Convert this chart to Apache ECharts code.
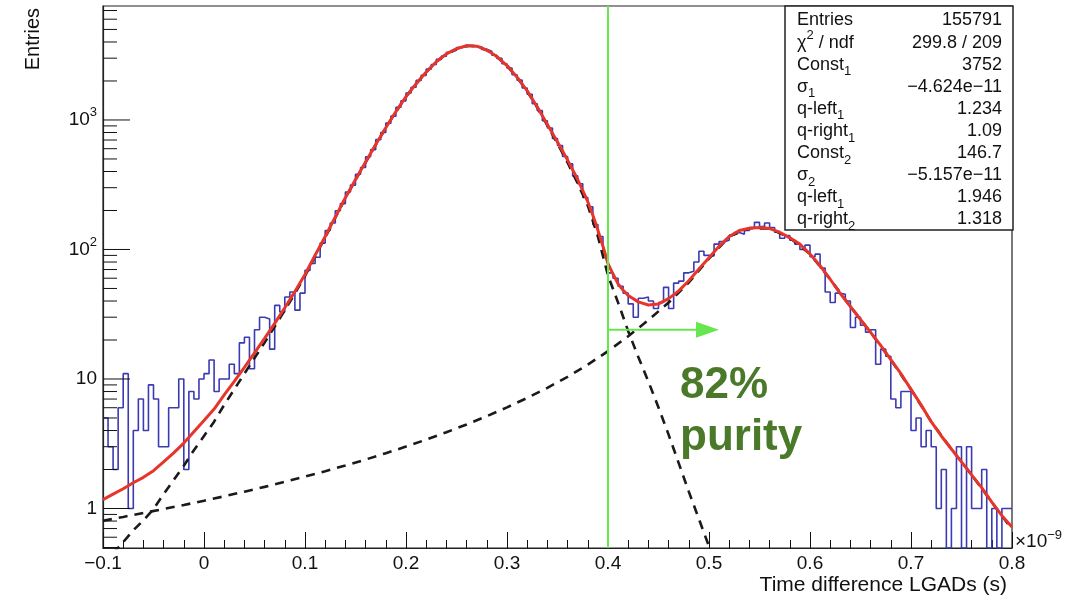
<!DOCTYPE html>
<html>
<head>
<meta charset="utf-8">
<script src="https://cdn.jsdelivr.net/npm/echarts@6/dist/echarts.min.js"></script>
<style>
  html, body { margin: 0; padding: 0; background: #fff; }
  #chart { width: 1084px; height: 598px; }
</style>
</head>
<body>
<div id="chart"></div>
<script>
// Time difference between the two LGADs (in ns), 5 ps bins from -0.1 to 0.8
const binStart = -0.1;
const binWidth = 0.005;
const counts = [
  5, 3, 2, 6, 11, 1, 4, 7, 4, 9, 7, 3, 3, 6, 6, 10, 2, 8, 7, 10,
  11, 14, 8, 10, 10, 13, 11, 19, 21, 12, 24, 30, 29, 17, 37, 33, 43, 47, 34, 46,
  69, 78, 87, 112, 140, 160, 199, 226, 278, 314, 381, 430, 520, 590, 705, 800, 945, 1070, 1255, 1405,
  1615, 1790, 2020, 2210, 2470, 2680, 2935, 3110, 3330, 3450, 3620, 3680, 3760, 3700, 3675, 3510, 3390, 3160, 2990, 2720,
  2520, 2235, 2030, 1765, 1580, 1335, 1180, 985, 866, 720, 635, 522, 458, 370, 322, 252, 214, 156, 126, 90,
  66, 60, 52, 46, 38, 30, 42, 43, 40, 35, 39, 51, 35, 55, 57, 66, 68, 80, 97, 90,
  89, 110, 115, 118, 129, 135, 131, 140, 148, 162, 150, 160, 148, 136, 122, 128, 118, 110, 100, 108,
  88, 92, 72, 47, 39, 46, 45, 40, 25, 30, 26, 23, 24, 13, 17, 15, 7, 6, 8, 8,
  4, 5, 3, 4, 3, 1, 2, 0, 1, 3, 0, 3, 1, 1, 2, 0, 1, 0, 1, 1
];

// Total fit (sum of the two q-Gaussian components)
const fitX = [
  -0.10, -0.09, -0.08, -0.07, -0.06, -0.05, -0.04, -0.03, -0.02, -0.01,
  0.00, 0.01, 0.02, 0.03, 0.04, 0.05, 0.06, 0.07, 0.08, 0.09,
  0.10, 0.11, 0.12, 0.13, 0.14, 0.15, 0.16, 0.17, 0.18, 0.19,
  0.20, 0.21, 0.22, 0.23, 0.24, 0.25, 0.26, 0.27, 0.28, 0.29,
  0.30, 0.31, 0.32, 0.33, 0.34, 0.35, 0.36, 0.37, 0.38, 0.385, 0.39, 0.395,
  0.40, 0.405, 0.41, 0.415, 0.42, 0.43, 0.44, 0.45, 0.46, 0.47, 0.48, 0.49,
  0.50, 0.51, 0.52, 0.53, 0.54, 0.55, 0.56, 0.57, 0.58, 0.59,
  0.60, 0.61, 0.62, 0.63, 0.64, 0.65, 0.66, 0.67, 0.68, 0.69,
  0.70, 0.71, 0.72, 0.73, 0.74, 0.75, 0.76, 0.77, 0.78, 0.79, 0.80
];
const fitY = [
  1.17, 1.29, 1.42, 1.58, 1.74, 1.96, 2.29, 2.69, 3.20, 3.92,
  4.78, 5.86, 7.53, 9.59, 12.3, 15.9, 20.6, 26.9, 35.5, 47.4,
  64.1, 90.2, 126, 178, 251, 347, 473, 646, 871, 1161,
  1514, 1905, 2344, 2818, 3236, 3548, 3750, 3715, 3467, 3090,
  2630, 2138, 1679, 1259, 923, 676, 490, 347, 234, 184, 141, 106,
  77.6, 64.6, 54.3, 48.4, 44.2, 39.4, 37.3, 38.0, 41.7, 47.9, 57.4, 70.8,
  86.5, 106, 126, 140, 146, 148, 145, 136, 123, 110,
  92.3, 75.0, 58.9, 45.7, 36.3, 28.8, 22.9, 18.2, 14.1, 11.0,
  8.32, 6.31, 4.68, 3.63, 2.88, 2.29, 1.82, 1.45, 1.12, 0.88, 0.72
];

// First component (main peak)
const peak1X = [
  -0.09, -0.08, -0.07, -0.06, -0.05, -0.04, -0.03, -0.02, -0.01,
  0.00, 0.01, 0.02, 0.03, 0.04, 0.05, 0.06, 0.07, 0.08, 0.09,
  0.10, 0.11, 0.12, 0.13, 0.14, 0.15, 0.16, 0.17, 0.18, 0.19,
  0.20, 0.21, 0.22, 0.23, 0.24, 0.25, 0.26, 0.27, 0.28, 0.29,
  0.30, 0.31, 0.32, 0.33, 0.34, 0.35, 0.36, 0.37, 0.38, 0.39,
  0.40, 0.41, 0.42, 0.43, 0.44, 0.45, 0.46, 0.47, 0.48, 0.49, 0.50, 0.51
];
const peak1Y = [
  0.45, 0.55, 0.68, 0.81, 0.99, 1.29, 1.66, 2.14, 2.82,
  3.63, 4.68, 6.31, 8.32, 11.0, 14.5, 19.1, 25.4, 33.9, 45.7,
  62.4, 88.4, 124, 176, 249, 345, 470, 643, 868, 1158,
  1511, 1901, 2340, 2814, 3231, 3542, 3743, 3707, 3458, 3080,
  2619, 2126, 1665, 1244, 906, 657, 469, 324, 218, 126,
  63, 38.9, 23.4, 14.8, 9.55, 6.03, 3.72, 2.24, 1.35, 0.83, 0.51, 0.31
];

// Second component (satellite peak)
const peak2X = [
  -0.10, -0.08, -0.06, -0.04, -0.02, 0.00, 0.02, 0.04, 0.06, 0.08,
  0.10, 0.12, 0.14, 0.16, 0.18, 0.20, 0.22, 0.24, 0.26, 0.28,
  0.30, 0.32, 0.34, 0.36, 0.38, 0.40, 0.42, 0.44, 0.46, 0.48,
  0.50, 0.52, 0.54, 0.56, 0.58, 0.60, 0.62, 0.64, 0.66, 0.68,
  0.70, 0.72, 0.74, 0.76, 0.78, 0.80
];
const peak2Y = [
  0.803, 0.861, 0.925, 0.991, 1.064, 1.148, 1.242, 1.349, 1.469, 1.607,
  1.762, 1.941, 2.148, 2.388, 2.673, 3.006, 3.404, 3.882, 4.457, 5.164,
  6.039, 7.145, 8.551, 10.4, 12.9, 16.4, 21.4, 28.5, 38.9, 55.6,
  85.1, 126, 146, 145, 123, 92.3, 58.9, 36.3, 22.9, 14.1,
  8.32, 4.68, 2.88, 1.82, 1.12, 0.69
];

// Selection cut and arrow
const purityCut = 0.4;
const arrowTip = 0.4985;
const arrowLevel = 24;

// Axes
const xMin = -0.1, xMax = 0.8;
const yMinLog = -0.305, yMaxLog = 3.88;
const yDecadeLabels = ['{b|1}', '{b|10}', '{b|10}{s|2}', '{b|10}{s|3}'];

// Fit statistics box
const statLabels = [
  '{m|Entries}', '{m|χ}{sup|2}{m| / ndf}', '{m|Const}{sub|1}', '{m|σ}{sub|1}',
  '{m|q-left}{sub|1}', '{m|q-right}{sub|1}', '{m|Const}{sub|2}', '{m|σ}{sub|2}',
  '{m|q-left}{sub|1}', '{m|q-right}{sub|2}'
];
const statValues = [
  '155791', '299.8 / 209', '3752', '−4.624e−11', '1.234',
  '1.09', '146.7', '−5.157e−11', '1.946', '1.318'
];

const FONT = 'Liberation Sans, Arial, Helvetica, sans-serif';
const INK = '#111';

const toLog = c => (c > 0 ? Math.log10(c) : yMinLog);

const histData = counts.map((c, i) => [binStart + i * binWidth, toLog(c)]);
histData.push([binStart + counts.length * binWidth, toLog(counts[counts.length - 1])]);
const fitData = fitX.map((x, i) => [x, Math.log10(fitY[i])]);
const peak1Data = peak1X.map((x, i) => [x, Math.log10(peak1Y[i])]);
const peak2Data = peak2X.map((x, i) => [x, Math.log10(peak2Y[i])]);

// Log-scale ticks on the vertical axis: decades and 2..9 subdivisions
const yTicks = [];
for (let d = -1; d <= 3; d++) {
  for (let m = 1; m <= 9; m++) {
    const lv = Math.log10(m * Math.pow(10, d));
    if (lv > yMinLog + 1e-6 && lv < yMaxLog) yTicks.push([xMin, lv, m === 1 ? 1 : 0]);
  }
}

const chart = echarts.init(document.getElementById('chart'), null, { renderer: 'canvas' });

const statGraphics = [];
statGraphics.push({
  type: 'rect', z: 20,
  shape: { x: 785, y: 6, width: 228, height: 224 },
  style: { fill: '#fff', stroke: '#222', lineWidth: 1.5 }
});
statLabels.forEach((lab, i) => {
  const yc = 20.5 + 22.1 * i;
  statGraphics.push({
    type: 'text', z: 21, x: 797, y: yc,
    style: {
      text: lab, align: 'left', verticalAlign: 'middle', fill: INK,
      rich: {
        m: { fontSize: 18, fontFamily: FONT, fill: INK, lineHeight: 27 },
        sub: { fontSize: 13, fontFamily: FONT, fill: INK, lineHeight: 13, verticalAlign: 'bottom' },
        sup: { fontSize: 13, fontFamily: FONT, fill: INK, lineHeight: 13, verticalAlign: 'top' }
      }
    }
  });
  statGraphics.push({
    type: 'text', z: 21, x: 1002, y: yc,
    style: { text: statValues[i], align: 'right', verticalAlign: 'middle', fill: INK, fontSize: 18, fontFamily: FONT }
  });
});

const option = {
  animation: false,
  backgroundColor: '#fff',
  grid: {
    left: 103, right: 72, top: 6, bottom: 50,
    show: true, borderColor: '#222', borderWidth: 1.2, backgroundColor: 'transparent',
    outerBoundsMode: 'none'
  },
  xAxis: {
    type: 'value', min: xMin, max: xMax, interval: 0.1,
    axisLine: { show: true, onZero: false, lineStyle: { color: '#222', width: 1.2 } },
    axisTick: { show: true, inside: true, length: 16, lineStyle: { color: INK, width: 1 } },
    minorTick: { show: true, splitNumber: 5, length: 8, lineStyle: { color: INK, width: 1 } },
    splitLine: { show: false },
    axisLabel: {
      show: true, color: INK, fontSize: 19, fontFamily: FONT, margin: 6,
      formatter: v => {
        const r = Math.round(v * 10) / 10;
        if (r === 0) return '0';
        return (r < 0 ? '−' : '') + Math.abs(r).toFixed(1);
      }
    }
  },
  yAxis: {
    type: 'value', min: yMinLog, max: yMaxLog,
    axisLine: { show: true, onZero: false, lineStyle: { color: '#222', width: 1.2 } },
    axisTick: { show: false },
    axisLabel: { show: false },
    splitLine: { show: false }
  },
  series: [
    {
      name: 'data', type: 'line', step: 'end', data: histData,
      symbol: 'none', silent: true, clip: true,
      lineStyle: { color: '#3a3ab2', width: 1.6 }, z: 2
    },
    {
      name: 'peak 1', type: 'line', data: peak1Data,
      symbol: 'none', silent: true, clip: true,
      lineStyle: { color: '#1a1a1a', width: 2.6, type: [9, 7] }, z: 3
    },
    {
      name: 'peak 2', type: 'line', data: peak2Data,
      symbol: 'none', silent: true, clip: true,
      lineStyle: { color: '#1a1a1a', width: 2.6, type: [9, 7] }, z: 3
    },
    {
      name: 'fit', type: 'line', data: fitData,
      symbol: 'none', silent: true, clip: true,
      lineStyle: { color: '#e8352b', width: 3 }, z: 4
    },
    {
      name: 'cut', type: 'line', data: [[purityCut, yMinLog], [purityCut, yMaxLog]],
      symbol: 'none', silent: true,
      lineStyle: { color: '#66e64f', width: 2 }, z: 5
    },
    {
      name: 'selection', type: 'line',
      data: [
        { value: [purityCut, Math.log10(arrowLevel)], symbol: 'none' },
        { value: [arrowTip, Math.log10(arrowLevel)], symbol: 'triangle', symbolSize: [16, 23], symbolRotate: -90 }
      ],
      silent: true, showSymbol: true,
      itemStyle: { color: '#66e64f' },
      lineStyle: { color: '#66e64f', width: 2.2 }, z: 5
    },
    {
      name: 'yticks', type: 'custom', data: yTicks, silent: true, clip: false, z: 6,
      renderItem: (params, api) => {
        const lv = api.value(1);
        const major = api.value(2) === 1;
        const p = api.coord([xMin, lv]);
        const len = major ? 27 : 14;
        const children = [{
          type: 'line',
          shape: { x1: p[0], y1: p[1], x2: p[0] + len, y2: p[1] },
          style: { stroke: INK, lineWidth: 1 }
        }];
        if (major) {
          const d = Math.round(lv);
          children.push({
            type: 'text', x: p[0] - 6, y: p[1],
            style: {
              text: yDecadeLabels[d], align: 'right', verticalAlign: 'middle', fill: INK,
              rich: {
                b: { fontSize: 19, fontFamily: FONT, fill: INK, lineHeight: 28 },
                s: { fontSize: 13, fontFamily: FONT, fill: INK, lineHeight: 14, verticalAlign: 'top' }
              }
            }
          });
        }
        return { type: 'group', children };
      }
    }
  ],
  graphic: [
    {
      type: 'text', x: 33, y: 8, rotation: Math.PI / 2, z: 10,
      style: { text: 'Entries', align: 'right', verticalAlign: 'middle', fill: INK, fontSize: 20, fontFamily: FONT }
    },
    {
      type: 'text', x: 1007, y: 585, z: 10,
      style: { text: 'Time difference LGADs (s)', align: 'right', verticalAlign: 'middle', fill: INK, fontSize: 21, fontFamily: FONT }
    },
    {
      type: 'text', x: 1015, y: 542, z: 10,
      style: {
        text: '{b|×10}{s|−9}', align: 'left', verticalAlign: 'middle', fill: INK,
        rich: {
          b: { fontSize: 19, fontFamily: FONT, fill: INK, lineHeight: 26 },
          s: { fontSize: 13, fontFamily: FONT, fill: INK, lineHeight: 13, verticalAlign: 'top' }
        }
      }
    },
    {
      type: 'text', x: 680, y: 386, z: 10,
      style: { text: '82%', align: 'left', verticalAlign: 'middle', fill: '#4a7a29', fontSize: 44, fontWeight: 'bold', fontFamily: FONT }
    },
    {
      type: 'text', x: 680, y: 438, z: 10,
      style: { text: 'purity', align: 'left', verticalAlign: 'middle', fill: '#4a7a29', fontSize: 44, fontWeight: 'bold', fontFamily: FONT }
    }
  ].concat(statGraphics)
};

chart.setOption(option);
</script>
</body>
</html>
